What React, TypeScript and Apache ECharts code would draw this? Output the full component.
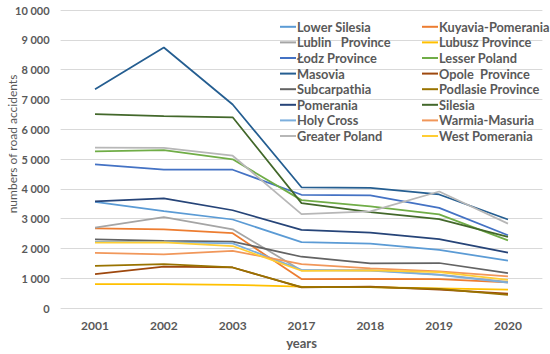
import React, { useEffect, useRef } from "react";
import * as echarts from "echarts";

const categories = ["2001", "2002", "2003", "2017", "2018", "2019", "2020"];
const yTicks = [0, 1000, 2000, 3000, 4000, 5000, 6000, 7000, 8000, 9000, 10000];

const names = [
  "Lower Silesia",
  "Kuyavia-Pomerania",
  "Lublin   Province",
  "Lubusz Province",
  "Łodz Province",
  "Lesser Poland",
  "Masovia",
  "Opole  Province",
  "Subcarpathia",
  "Podlasie Province",
  "Pomerania",
  "Silesia",
  "Holy Cross",
  "Warmia-Masuria",
  "Greater Poland",
  "West Pomerania",
];

const lowerSilesia = [3560, 3250, 2970, 2210, 2160, 1950, 1590];
const kuyaviaPomerania = [2670, 2640, 2510, 970, 980, 970, 860];
const lublin = [2700, 3050, 2640, 1260, 1270, 1120, 880];
const lubusz = [800, 800, 780, 720, 700, 660, 620];
const lodz = [4820, 4640, 4640, 3800, 3780, 3360, 2440];
const lesserPoland = [5260, 5300, 4990, 3620, 3410, 3140, 2270];
const masovia = [7340, 8740, 6830, 4050, 4030, 3810, 2970];
const opole = [1140, 1390, 1360, 690, 720, 620, 480];
const subcarpathia = [2300, 2250, 2230, 1720, 1500, 1510, 1170];
const podlasie = [1410, 1470, 1360, 700, 700, 640, 440];
const pomerania = [3580, 3680, 3280, 2620, 2530, 2310, 1860];
const silesia = [6510, 6440, 6400, 3520, 3220, 2980, 2390];
const holyCross = [2220, 2210, 2170, 1280, 1250, 1110, 850];
const warmiaMasuria = [1850, 1800, 1920, 1470, 1330, 1230, 1060];
const greaterPoland = [5380, 5370, 5110, 3150, 3240, 3910, 2830];
const westPomerania = [2190, 2200, 2080, 1250, 1260, 1200, 940];

const seriesValues = [
  lowerSilesia, kuyaviaPomerania, lublin, lubusz, lodz, lesserPoland, masovia, opole,
  subcarpathia, podlasie, pomerania, silesia, holyCross, warmiaMasuria, greaterPoland, westPomerania,
];

const colors = [
  "#5B9BD5", "#ED7D31", "#A5A5A5", "#FFC000", "#4472C4", "#70AD47", "#255E91", "#9E480E",
  "#636363", "#997300", "#264478", "#43682B", "#7CAFDD", "#F1975A", "#B7B7B7", "#FFCD33",
];

const FONT = "Lato, 'Open Sans', sans-serif";
const TEXT = "#595959";

export default function App() {
  const ref = useRef<HTMLDivElement>(null);
  useEffect(() => {
    if (!ref.current) return;
    const chart = echarts.init(ref.current, null, { renderer: "svg" });
    const legendCommon = {
      orient: "vertical" as const,
      top: 19,
      icon: "rect",
      itemWidth: 16,
      itemHeight: 2,
      itemGap: 0,
      padding: 0,
      selectedMode: false,
      textStyle: {
        color: TEXT,
        fontFamily: FONT,
        fontWeight: "bold" as const,
        fontSize: 12.8,
        lineHeight: 15.6,
        padding: [0, 0, 0, -4],
      },
    };
    chart.setOption({
      animation: false,
      color: colors,
      textStyle: { fontFamily: FONT },
      grid: { left: 60.6, right: 7.6, top: 10, bottom: 44, containLabel: false },
      legend: [
        { ...legendCommon, left: 280, data: names.filter((_, i) => i % 2 === 0) },
        { ...legendCommon, left: 422, data: names.filter((_, i) => i % 2 === 1) },
      ],
      xAxis: {
        type: "category",
        data: categories,
        boundaryGap: true,
        axisLine: { show: false },
        axisTick: { show: false },
        axisLabel: { color: TEXT, fontFamily: FONT, fontWeight: "bold", fontSize: 12, margin: 11 },
        name: "years",
        nameLocation: "middle",
        nameGap: 28,
        nameTextStyle: { color: TEXT, fontFamily: FONT, fontWeight: "bold", fontSize: 13 },
      },
      yAxis: {
        type: "value",
        min: yTicks[0],
        max: yTicks[yTicks.length - 1],
        interval: 1000,
        axisLine: { show: false },
        axisTick: { show: false },
        splitLine: { lineStyle: { color: "#D9D9D9", width: 1 } },
        axisLabel: {
          color: TEXT,
          fontFamily: FONT,
          fontWeight: "bold",
          fontSize: 11,
          margin: 11,
          formatter: (v: number) => {
            const s = String(v);
            return s.length > 3 ? s.slice(0, s.length - 3) + " " + s.slice(-3) : s;
          },
        },
      },
      graphic: [
        {
          type: "text",
          x: 12,
          y: 144,
          rotation: Math.PI / 2,
          style: {
            text: "numbers of road accidents",
            fill: TEXT,
            font: `12px ${FONT}`,
            align: "center",
            verticalAlign: "middle",
          },
        },
      ],
      series: names.map((n, i) => ({
        name: n,
        type: "line",
        data: seriesValues[i],
        symbol: "none",
        lineStyle: { width: 1.75, color: colors[i] },
        itemStyle: { color: colors[i] },
      })),
    });
    return () => chart.dispose();
  }, []);
  return <div ref={ref} style={{ width: 550, height: 354, position: "absolute", left: 0, top: 0 }} />;
}
